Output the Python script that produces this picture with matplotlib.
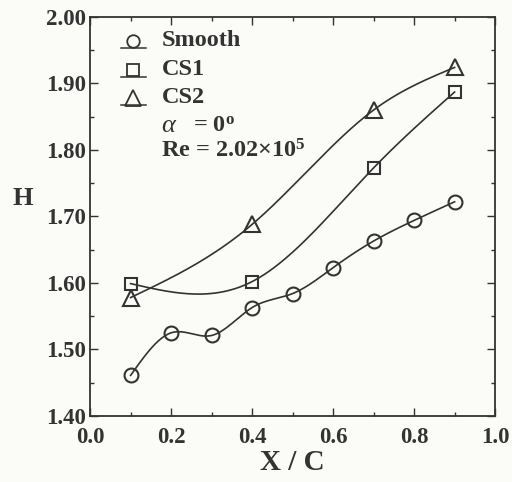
import numpy as np
import matplotlib
matplotlib.use('Agg')
import matplotlib.pyplot as plt
from matplotlib.ticker import MultipleLocator, FormatStrFormatter

# values
x_smooth = [0.1, 0.2, 0.3, 0.4, 0.5, 0.6, 0.7, 0.8, 0.9]
h_smooth = [1.461, 1.525, 1.521, 1.563, 1.584, 1.623, 1.663, 1.694, 1.722]
x_cs1 = [0.1, 0.4, 0.7, 0.9]
h_cs1 = [1.599, 1.602, 1.773, 1.887]
x_cs2 = [0.1, 0.4, 0.7, 0.9]
h_cs2 = [1.578, 1.688, 1.860, 1.924]


def natural_spline(x, y, n=200):
    # natural cubic spline through the points, only for drawing the curve
    x = np.asarray(x, float)
    y = np.asarray(y, float)
    k = len(x)
    h = np.diff(x)
    A = np.zeros((k, k))
    b = np.zeros(k)
    A[0, 0] = A[-1, -1] = 1
    for i in range(1, k - 1):
        A[i, i - 1] = h[i - 1]
        A[i, i] = 2 * (h[i - 1] + h[i])
        A[i, i + 1] = h[i]
        b[i] = 6 * ((y[i + 1] - y[i]) / h[i] - (y[i] - y[i - 1]) / h[i - 1])
    M = np.linalg.solve(A, b)
    xs = np.linspace(x[0], x[-1], n)
    ys = np.empty_like(xs)
    for j, t in enumerate(xs):
        i = min(np.searchsorted(x, t, side='right') - 1, k - 2)
        a, c = x[i], x[i + 1]
        hh = c - a
        ys[j] = (M[i] * (c - t) ** 3 / (6 * hh) + M[i + 1] * (t - a) ** 3 / (6 * hh)
                 + (y[i] / hh - M[i] * hh / 6) * (c - t)
                 + (y[i + 1] / hh - M[i + 1] * hh / 6) * (t - a))
    return xs, ys


plt.rcParams['font.family'] = 'Liberation Serif'
plt.rcParams['font.weight'] = 'bold'
plt.rcParams['mathtext.fontset'] = 'custom'
plt.rcParams['mathtext.rm'] = 'Liberation Serif:bold'
plt.rcParams['mathtext.bf'] = 'Liberation Serif:bold'
plt.rcParams['mathtext.it'] = 'Liberation Serif:italic'

ink = '#333333'
bg = '#fbfbf8'
fig = plt.figure(figsize=(5.12, 4.82), dpi=100, facecolor=bg)
ax = fig.add_axes([0.176, 0.137, 0.791, 0.828])
ax.set_facecolor(bg)

series = [(x_smooth, h_smooth, 'o', 10, 'Smooth'),
          (x_cs1, h_cs1, 's', 9, 'CS1'),
          (x_cs2, h_cs2, '^', 12, 'CS2')]
leg_y = [0.940, 0.868, 0.797]
for (xv, yv, mk, ms, name), ly in zip(series, leg_y):
    xs, ys = natural_spline(xv, yv)
    ax.plot(xs, ys, color=ink, lw=1.2, zorder=2)
    ax.plot(xv, yv, linestyle='none', marker=mk, markersize=ms,
            mfc='none', mec=ink, mew=1.5, zorder=3)
    # legend entry: short stroke with marker on it, then the name
    ax.plot([0.077, 0.139], [ly - 0.018, ly - 0.018], color=ink, lw=1.1,
            transform=ax.transAxes, clip_on=False)
    ax.plot([0.107], [ly], linestyle='none', marker=mk, markersize=ms - 1,
            mfc='none', mec=ink, mew=1.3, transform=ax.transAxes)
    ax.text(0.176, ly, name, transform=ax.transAxes, fontsize=17.5,
            color=ink, va='center', ha='left')

ax.text(0.176, 0.726, 'α', transform=ax.transAxes, fontsize=19, color=ink,
        va='center', fontweight='normal', style='italic')
ax.text(0.255, 0.726, '= 0$^{\\mathrm{o}}$', transform=ax.transAxes,
        fontsize=17.5, color=ink, va='center')
ax.text(0.176, 0.664, 'Re = 2.02×10$^{\\mathrm{5}}$', transform=ax.transAxes,
        fontsize=17.5, color=ink, va='center')

ax.set_xlim(0.0, 1.0)
ax.set_ylim(1.40, 2.00)
ax.xaxis.set_major_locator(MultipleLocator(0.2))
ax.xaxis.set_minor_locator(MultipleLocator(0.1))
ax.yaxis.set_major_locator(MultipleLocator(0.1))
ax.yaxis.set_minor_locator(MultipleLocator(0.05))
ax.xaxis.set_major_formatter(FormatStrFormatter('%.1f'))
ax.yaxis.set_major_formatter(FormatStrFormatter('%.2f'))
ax.tick_params(which='both', direction='in', top=True, right=True, colors=ink,
               labelsize=16.5, width=1.0, pad=3)
ax.tick_params(axis='x', which='both', pad=8)
ax.tick_params(which='major', length=6)
ax.tick_params(which='minor', length=3)
for s in ax.spines.values():
    s.set_linewidth(1.3)
    s.set_color(ink)

ax.set_xlabel('X / C', fontsize=21, fontweight='bold', color=ink, labelpad=1)
ax.set_ylabel('H', fontsize=19, fontweight='bold', color=ink, rotation=0,
              labelpad=18, va='center')
ax.yaxis.set_label_coords(-0.165, 0.545)

fig.savefig('out.png', dpi=100, facecolor=fig.get_facecolor())
